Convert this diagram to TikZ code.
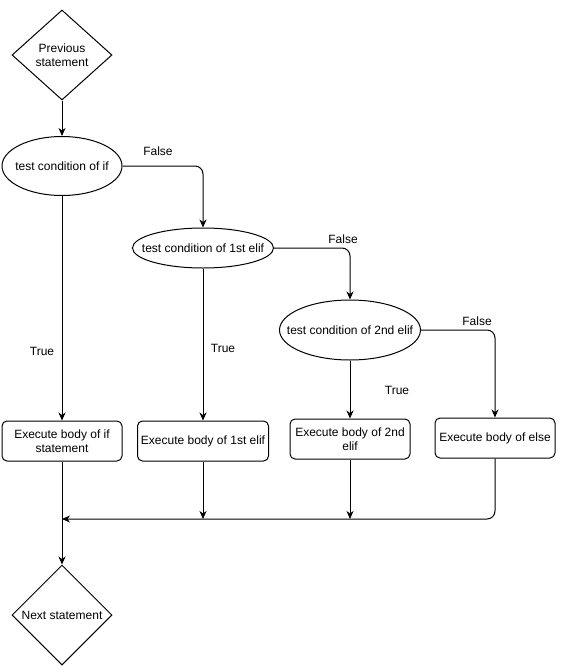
\documentclass[tikz,border=0pt]{standalone}
\usepackage{fontspec}
\setmainfont{Liberation Sans}
\usetikzlibrary{arrows.meta, positioning, shapes.geometric}

\begin{document}
\begin{tikzpicture}[x=1pt, y=-1pt,
  every node/.style={font=\fontsize{12}{14.5}\selectfont},
  decision/.style={draw, diamond, line width=1pt, minimum width=100pt,
                   minimum height=90pt, inner sep=0pt, align=center},
  cond/.style    ={draw, ellipse, line width=1pt, inner ysep=0pt,
                   minimum height=40pt, align=center},
  body/.style    ={draw, rounded corners=5pt, line width=1pt,
                   minimum width=120pt, minimum height=40pt,
                   inner sep=1pt, align=center},
  flow/.style    ={line width=1pt,
                   -{Stealth[length=8pt, width=7pt, inset=2.5pt]}},
  lbl/.style     ={inner sep=0pt},
]
  \useasboundingbox (0,0) rectangle (569,672);

  % === Start ===
  \node[decision] (prev) at (62,55) {Previous\\statement};

  % === Conditions ===
  \node[cond, inner xsep=-8pt, minimum width=120pt, minimum height=59pt]
    (condIf) at (62,166) {test condition of if};
  \node[cond, inner xsep=-13pt, minimum width=141pt] (condElifA)
    at (203,248) {test condition of 1st elif};
  \node[cond, inner xsep=-14pt, minimum width=141pt, minimum height=60pt]
    (condElifB) at (350,330) {test condition of 2nd elif};

  % === Bodies ===
  \node[body] (bodyIf)    at (62,441)  {Execute body of if\\statement};
  \node[body, minimum width=131pt] (bodyElifA) at (203,441)
    {Execute body of 1st elif};
  \node[body] (bodyElifB) at (350,439) {Execute body of 2nd\\elif};
  \node[body] (bodyElse)  at (495,438) {Execute body of else};

  % === End ===
  \node[decision, minimum height=100pt] (next) at (62,615)
    {Next statement};
  \coordinate (merge) at (62,519);

  % === Connectors ===
  \draw[flow] (prev) -- (condIf);
  \draw[flow] (condIf) -- (bodyIf);
  \draw[flow, rounded corners=8pt] (condIf.east) -| (condElifA.north);
  \draw[flow] (condElifA) -- (bodyElifA);
  \draw[flow, rounded corners=8pt] (condElifA.east) -| (condElifB.north);
  \draw[flow] (condElifB) -- (bodyElifB);
  \draw[flow, rounded corners=8pt] (condElifB.east) -| (bodyElse.north);

  \draw[flow] (bodyElifA.south) -- (bodyElifA.south |- merge);
  \draw[flow] (bodyElifB.south) -- (bodyElifB.south |- merge);
  \draw[flow, rounded corners=8pt] (bodyElse.south) |- (merge);
  \draw[flow] (bodyIf) -- (next);

  % === Labels ===
  \node[lbl] (tIf)    at (42,351)  {True};
  \node[lbl] (tElifA) at (223,348) {True};
  \node[lbl] (tElifB) at (397,390) {True};
  \node[lbl] (fIf)    at (158,151) {False};
  \node[lbl] (fElifA) at (343,239) {False};
  \node[lbl] (fElifB) at (477,321) {False};

\end{tikzpicture}
\end{document}
